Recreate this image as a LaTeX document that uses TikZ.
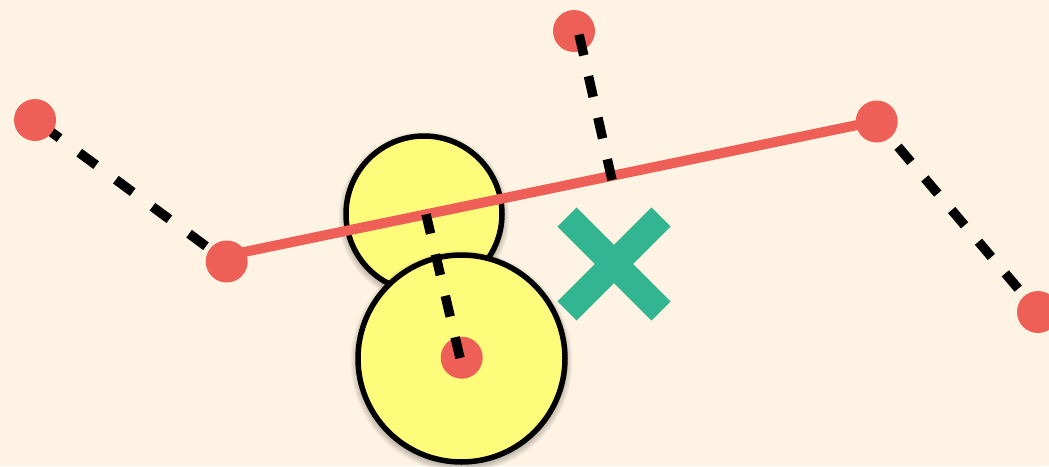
\documentclass[tikz,border=0pt]{standalone}
\definecolor{bg}{HTML}{FFF4E3}
\definecolor{dotred}{HTML}{EE5F57}
\definecolor{ballyellow}{HTML}{FFFB7B}
\definecolor{xgreen}{HTML}{34B591}
\begin{document}
\begin{tikzpicture}[x=1pt,y=-1pt,
  dot/.style={circle,fill=dotred,inner sep=0pt,minimum size=42pt},
  ball/.style={circle,draw=black,line width=5.5pt,fill=ballyellow,inner sep=0pt},
  dist/.style={line width=9.5pt,black,dash pattern=on 21.3pt off 21.3pt},
  poly/.style={line width=10pt,dotred},
  xarm/.style={line width=27pt,xgreen}]
\fill[bg] (0,0) rectangle (1049,466);
\useasboundingbox (0,0) rectangle (1049,466);

% soft shadows and circles
\foreach \k in {1,...,7} \fill[black,opacity=0.035] (424,217) circle ({78.5+\k});
\node[ball,minimum size=156pt] (small) at (424,214) {};
\foreach \k in {1,...,7} \fill[black,opacity=0.035] (461.5,361.5) circle ({104+\k});
\node[ball,minimum size=207pt] (big) at (461.5,358.5) {};

% polyline
\coordinate (pl) at (226.7,255.6);
\coordinate (pr) at (876.7,121);
\draw[poly] (pl) -- (pr);

% dot positions
\coordinate (flc) at (35,120);
\coordinate (lc) at (226.7,261.5);
\coordinate (rc) at (876.7,121.5);
\coordinate (frc) at (1038,312);

\draw[dist,dash pattern=on 21pt off 24.5pt,dash phase=36pt] (flc) -- (lc);
\draw[dist,dash pattern=on 20pt off 21.5pt,dash phase=8.5pt] (rc) -- (frc);

\node[dot] (FL) at (flc) {};
\node[dot] (L) at (lc) {};
\node[dot] (R) at (rc) {};
\node[dot] (FR) at (frc) {};
\node[dot] (T) at (574,31) {};
\node[dot] (C) at (461.7,357.7) {};

% projections
\coordinate (ft) at (612,180);
\coordinate (tt) at (578,30);
\coordinate (fc) at (426,214.3);
\coordinate (cc) at (460,358);
\draw[dist] (ft) -- (tt);
\draw[dist] (cc) -- (fc);

% green cross
\coordinate (xc) at (614,264);
\draw[xarm] (567,217) -- (661,311);
\draw[xarm] (661,217) -- (567,311);
\end{tikzpicture}
\end{document}
